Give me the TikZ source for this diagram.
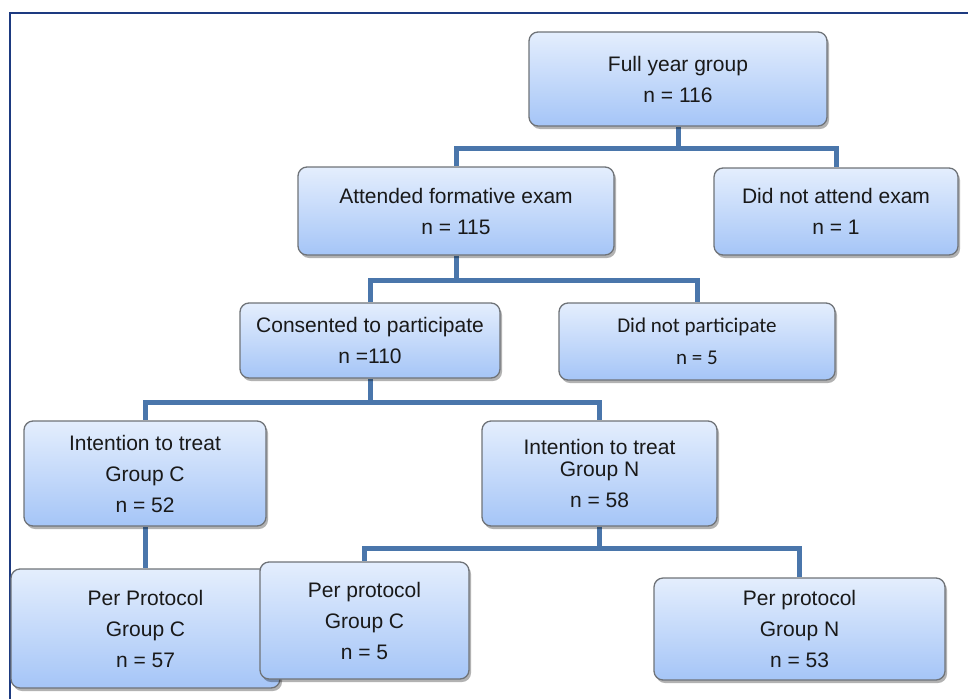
\documentclass[tikz,border=0pt]{standalone}
\usepackage{fontspec}
\setmainfont{Liberation Sans}
\newfontfamily\calib{Carlito}
\usetikzlibrary{shadows}
\definecolor{boxtop}{HTML}{E4EEFD}
\definecolor{boxbot}{HTML}{A5C5F7}
\definecolor{boxline}{HTML}{6F7378}
\definecolor{conn}{HTML}{4A76AB}
\definecolor{framecol}{HTML}{1D3A80}
\pgfdeclarelayer{background}
\pgfsetlayers{background,main}
\begin{document}
\begin{tikzpicture}[x=1pt,y=-1pt,
  flowbox/.style={draw=boxline, line width=1.3pt, rounded corners=9pt,
    top color=boxtop, bottom color=boxbot, align=center, inner sep=0pt,
    font=\fontsize{21}{31}\selectfont, text=black!90,
    drop shadow={shadow xshift=2pt,shadow yshift=-3pt,opacity=0.3,fill=black}},
  link/.style={draw=conn, line width=5pt}]
\useasboundingbox (0,0) rectangle (968,699);
\coordinate (fbl) at (10,699);
\coordinate (ftl) at (10,13);
\coordinate (ftr) at (968,13);
\draw[framecol, line width=2.5pt] (fbl) -- (ftl) -- (ftr);

\node[flowbox, minimum width=298pt, minimum height=94pt] (b1) at (678,79) {Full year group\\n = 116};
\node[flowbox, minimum width=316pt, minimum height=88pt] (b2) at (456,211) {Attended formative exam\\n = 115};
\node[flowbox, minimum width=244pt, minimum height=87pt] (b3) at (836,211.5) {Did not attend exam\\n = 1};
\node[flowbox, minimum width=260pt, minimum height=75pt] (b4) at (370,340.5) {Consented to participate\\n =110};
\node[flowbox, minimum width=276pt, minimum height=77pt, font=\calib\fontsize{21}{32}\selectfont] (b5) at (697,341.5) {Did not participate\\n = 5};
\node[flowbox, minimum width=242pt, minimum height=105pt] (b6) at (145,473.5) {Intention to treat\\Group C\\n = 52};
\node[flowbox, minimum width=235pt, minimum height=105pt] (b7) at (599.5,473.5) {Intention to treat\\[-9pt]Group N\\n = 58};
\node[flowbox, minimum width=269pt, minimum height=119pt] (b8) at (145.5,628.5) {Per Protocol\\Group C\\n = 57};
\node[flowbox, minimum width=209pt, minimum height=117pt] (b9) at (364.5,620.5) {Per protocol\\Group C\\n = 5};
\node[flowbox, minimum width=291pt, minimum height=102pt] (b10) at (799.5,629) {Per protocol\\Group N\\n = 53};

\begin{pgfonlayer}{background}
\draw[link] (b1.south) -- ++(0,22) -| (b2.north);
\draw[link] (b1.south) -- ++(0,22) -| (b3.north);
\draw[link] (b2.south) -- ++(0,25) -| (b4.north);
\draw[link] (b2.south) -- ++(0,25) -| (b5.north);
\draw[link] (b4.south) -- ++(0,24) -| (b6.north);
\draw[link] (b4.south) -- ++(0,24) -| (b7.north);
\draw[link] (b6.south) -- (b6.south |- b8.north);
\draw[link] (b7.south) -- ++(0,22) -| (b9.north);
\draw[link] (b7.south) -- ++(0,22) -| (b10.north);
\end{pgfonlayer}
\end{tikzpicture}
\end{document}
